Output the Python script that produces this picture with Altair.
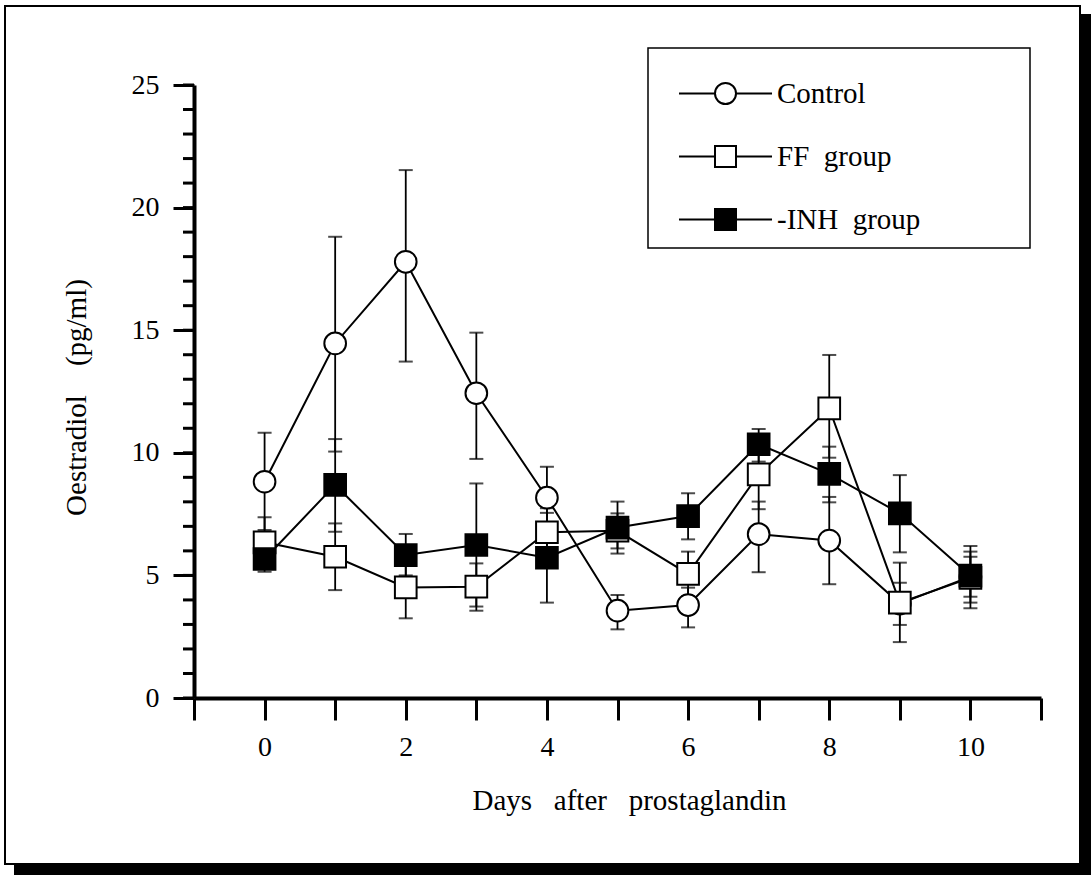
import altair as alt
import pandas as pd

# ---------------- data ----------------
days = [0, 1, 2, 3, 4, 5, 6, 7, 8, 9, 10]
series_names = ["Control", "FF\u00a0\u00a0group", "-INH\u00a0\u00a0group"]

control_mean = [8.82, 14.46, 17.79, 12.43, 8.17, 3.56, 3.79, 6.68, 6.42, 3.85, 4.95]
control_lo = [6.85, 10.05, 13.72, 9.75, 6.90, 2.80, 2.88, 5.13, 4.64, 2.98, 4.13]
control_hi = [10.82, 18.81, 21.53, 14.90, 9.43, 4.20, 4.50, 8.01, 8.20, 4.70, 5.76]

ff_mean = [6.35, 5.76, 4.51, 4.54, 6.76, 6.82, 5.06, 9.12, 11.81, 3.89, 4.90]
ff_lo = [5.35, 4.40, 3.25, 3.56, 5.78, 6.10, 4.15, 7.70, 9.80, 2.28, 3.89]
ff_hi = [7.37, 7.12, 5.77, 5.49, 7.74, 7.53, 5.97, 10.40, 13.99, 5.52, 5.97]

inh_mean = [5.67, 8.69, 5.83, 6.24, 5.72, 6.95, 7.42, 10.35, 9.14, 7.53, 4.99]
inh_lo = [5.15, 6.78, 5.00, 3.73, 3.89, 5.89, 6.47, 9.64, 7.98, 5.94, 3.66]
inh_hi = [6.20, 10.56, 6.69, 8.75, 7.55, 8.01, 8.35, 10.97, 10.25, 9.09, 6.20]

y_major_ticks = [0, 5, 10, 15, 20, 25]
y_minor_ticks = [0, 1, 2, 3, 4, 5, 6, 7, 8, 9, 10, 11, 12, 13, 14, 15, 16, 17,
                 18, 19, 20, 21, 22, 23, 24, 25]
x_ticks = [-1, 0, 1, 2, 3, 4, 5, 6, 7, 8, 9, 10, 11]

x_title = "Days\u00a0\u00a0\u00a0after\u00a0\u00a0\u00a0prostaglandin"
y_title = "Oestradiol\u00a0\u00a0\u00a0\u00a0(pg/ml)"

# ---------------- build table ----------------
rows = []
for name, m, lo, hi in [
    (series_names[0], control_mean, control_lo, control_hi),
    (series_names[1], ff_mean, ff_lo, ff_hi),
    (series_names[2], inh_mean, inh_lo, inh_hi),
]:
    for d, a, b, c in zip(days, m, lo, hi):
        rows.append({"day": d, "series": name, "mean": a, "lo": b, "hi": c})
df = pd.DataFrame(rows)

FONT = "Liberation Serif"
W, H = 847, 613
PAD_L, PAD_T = 194, 85

xs = alt.Scale(domain=[-1, 11], nice=False, zero=False)
ys = alt.Scale(domain=[0, 25], nice=False, zero=False)

x_axis = alt.Axis(
    values=x_ticks,
    labelExpr="(datum.value >= 0 && datum.value <= 10 && datum.value % 2 == 0) ? datum.label : ''",
    tickSize=22, tickWidth=3, tickColor="black",
    domainWidth=4, domainColor="black",
    labelFont=FONT, labelFontSize=28, labelColor="black", labelPadding=13,
    labelOverlap=False, labelFlush=False, labelBound=False,
    title=x_title, titleFont=FONT, titleFontSize=29, titleFontWeight="normal",
    titleColor="black", titleX=435, titleY=102, titleAlign="center",
    titleBaseline="middle", grid=False,
)
y_axis = alt.Axis(
    values=y_major_ticks,
    tickSize=21, tickWidth=3, tickColor="black",
    domainWidth=4, domainColor="black",
    labelFont=FONT, labelFontSize=28, labelColor="black", labelPadding=14,
    labelOverlap=False, labelFlush=False, labelBound=False,
    title=y_title, titleFont=FONT, titleFontSize=29, titleFontWeight="normal",
    titleColor="black", titleX=-118, titleY=312, titleAngle=-90,
    titleAlign="center", titleBaseline="middle", grid=False,
)

X = lambda f: alt.X(f, type="quantitative", scale=xs, axis=x_axis)
Y = lambda f: alt.Y(f, type="quantitative", scale=ys, axis=y_axis)

one = alt.Data(values=[{"k": 1}])

# page frame and its shadow
frame = alt.Chart(one).mark_rect(fill="white", fillOpacity=0, stroke="black", strokeWidth=2).encode(
    x=alt.value(5 - PAD_L), x2=alt.value(1080 - PAD_L),
    y=alt.value(6 - PAD_T), y2=alt.value(864 - PAD_T))
shadow_r = alt.Chart(one).mark_rect(fill="black").encode(
    x=alt.value(1080 - PAD_L), x2=alt.value(1091 - PAD_L),
    y=alt.value(14 - PAD_T), y2=alt.value(875 - PAD_T))
shadow_b = alt.Chart(one).mark_rect(fill="black").encode(
    x=alt.value(14 - PAD_L), x2=alt.value(1091 - PAD_L),
    y=alt.value(864 - PAD_T), y2=alt.value(875 - PAD_T))
legend_box = alt.Chart(one).mark_rect(fill="white", fillOpacity=0, stroke="black", strokeWidth=1.5).encode(
    x=alt.value(648 - PAD_L), x2=alt.value(1030 - PAD_L),
    y=alt.value(48 - PAD_T), y2=alt.value(248 - PAD_T))

minor = alt.Chart(pd.DataFrame({"v": y_minor_ticks})).mark_rule(color="black", strokeWidth=3).encode(
    y=Y("v"), x=alt.value(-11), x2=alt.value(0))

base = alt.Chart(df)
err = base.mark_rule(color="black", strokeWidth=1.8).encode(x=X("day"), y=Y("lo"), y2="hi")
cap_lo = base.mark_tick(orient="horizontal", size=14, thickness=2, color="black").encode(x=X("day"), y=Y("lo"))
cap_hi = base.mark_tick(orient="horizontal", size=14, thickness=2, color="black").encode(x=X("day"), y=Y("hi"))
lines = base.mark_line(color="black", strokeWidth=2).encode(
    x=X("day"), y=Y("mean"), detail="series:N", order="day:Q")

fill_scale = alt.Scale(domain=series_names, range=["white", "white", "black"])
points = base.mark_point(filled=True, stroke="black", strokeWidth=2, size=470, opacity=1).encode(
    x=X("day"), y=Y("mean"),
    fill=alt.Fill("series:N", scale=fill_scale, legend=None),
    shape=alt.Shape("series:N", scale=alt.Scale(domain=series_names, range=["circle", "square", "square"]), legend=None),
)

path_circle = "M-4.43,0H-1M1,0H4.43M-1,0A1,1,0,1,1,1,0A1,1,0,1,1,-1,0Z"
path_square = "M-4.43,0H-1M1,0H4.43M-1,-1H1V1H-1Z"
leg = alt.Legend(
    title=None, orient="none", legendX=517, legendY=-6, padding=0,
    symbolSize=441, symbolStrokeWidth=2, symbolStrokeColor="black", symbolOpacity=1,
    labelFont=FONT, labelFontSize=29, labelColor="black", labelOffset=37,
    labelBaseline="middle", rowPadding=33, labelLimit=400,
)
legend_layer = base.transform_filter("false").mark_point(filled=True, strokeWidth=2, opacity=1).encode(
    x=X("day"), y=Y("mean"),
    fill=alt.Fill("series:N", title="series", scale=alt.Scale(domain=series_names, range=["white", "white", "black"]), legend=leg),
    stroke=alt.Stroke("series:N", title="series", scale=alt.Scale(domain=series_names, range=["black", "black", "black"]), legend=leg),
    shape=alt.Shape("series:N", title="series", scale=alt.Scale(domain=series_names, range=[path_circle, path_square, path_square]), legend=leg),
)

chart = alt.layer(
    frame, shadow_r, shadow_b, legend_box, minor, err, cap_lo, cap_hi, lines, points, legend_layer
).resolve_scale(
    shape="independent", fill="independent", stroke="independent"
).properties(
    width=W, height=H,
    padding={"left": PAD_L, "top": PAD_T, "right": 1091 - PAD_L - W, "bottom": 875 - PAD_T - H},
    autosize=alt.AutoSizeParams(type="none"),
    background="white",
).configure_view(stroke=None)

chart.save("out.html", embed_options={"renderer": "svg", "actions": False})
